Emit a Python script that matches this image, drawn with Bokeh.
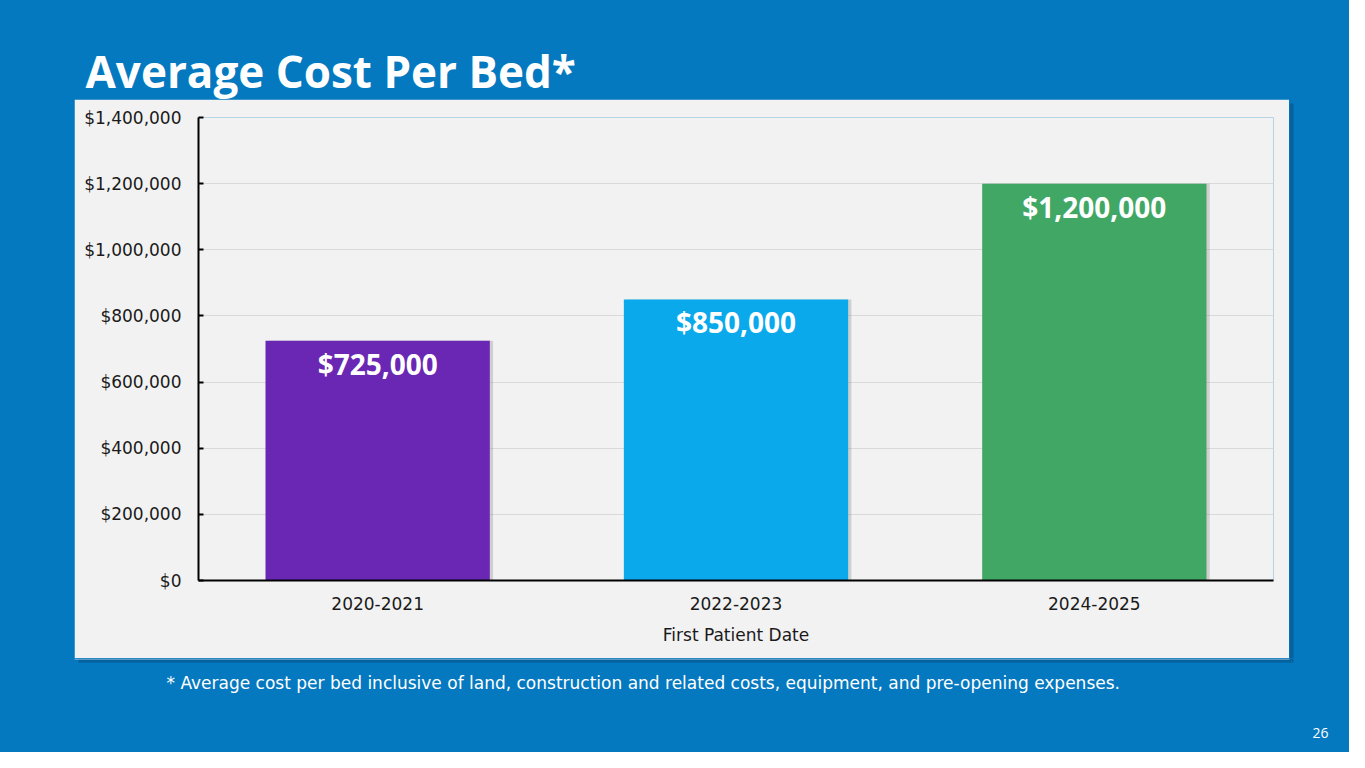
from bokeh.plotting import figure
from bokeh.layouts import column, row
from bokeh.models import (ColumnDataSource, FactorRange, Range1d, FixedTicker,
                          NumeralTickFormatter, BoxAnnotation, Label)
from bokeh.transform import dodge
from bokeh.core.properties import value
from bokeh.embed import file_html
from bokeh.resources import INLINE

# ---- data ----
categories = ["2020-2021", "2022-2023", "2024-2025"]
cost_per_bed = [725000, 850000, 1200000]
bar_colors = ["#6a27b4", "#0aa9ec", "#41a765"]
bar_labels = ["$725,000", "$850,000", "$1,200,000"]
y_ticks = [0, 200000, 400000, 600000, 800000, 1000000, 1200000, 1400000]
title_text = "Average Cost Per Bed*"
x_axis_title = "First Patient Date"
footnote = ("* Average cost per bed inclusive of land, construction and related costs, "
            "equipment, and pre-opening expenses.")
page_number = "26"

BLUE = "#0479c0"
PANEL = "#f2f2f2"
SHADOW = "#0a4f7e"
AXIS_FONT = "DejaVu Sans"
HEAD_FONT = "Open Sans"

TOTAL_W, TOTAL_H = 1349, 752
LEFT_W, CHART_W = 74, 1215
RIGHT_W = TOTAL_W - LEFT_W - CHART_W
TOP_H, CHART_H = 99, 559
BOTTOM_H = TOTAL_H - TOP_H - CHART_H


def no_align(f):
    try:
        f.frame_align = False
    except Exception:
        pass
    return f


def blank(w, h):
    f = figure(width=w, height=h, output_backend="svg", toolbar_location=None,
               x_axis_type=None, y_axis_type=None, min_border=0,
               x_range=Range1d(0, 1), y_range=Range1d(0, 1))
    f.background_fill_color = BLUE
    f.border_fill_color = BLUE
    f.outline_line_color = None
    return no_align(f)


def sbox(**kw):
    return BoxAnnotation(left_units="screen", right_units="screen",
                         top_units="screen", bottom_units="screen",
                         line_color=None, **kw)


# ---- title strip ----
top = blank(TOTAL_W, TOP_H)
top.add_layout(Label(x=85, y=29, x_units="screen", y_units="screen",
                     text=title_text, text_font=HEAD_FONT, text_font_style="bold",
                     text_font_size="44px", text_color="white",
                     text_baseline="alphabetic"))

# ---- side strips ----
left = blank(LEFT_W, CHART_H)
right = blank(RIGHT_W, CHART_H)
right.add_layout(sbox(left=0, right=4, top=CHART_H - 4, bottom=0,
                      fill_color=SHADOW, fill_alpha=0.55))

# ---- chart panel ----
src = ColumnDataSource(dict(cat=categories, val=cost_per_bed,
                            color=bar_colors, label=bar_labels))

p = figure(width=CHART_W, height=CHART_H, output_backend="svg", toolbar_location=None,
           x_range=FactorRange(factors=categories), y_range=Range1d(0, 1400000),
           min_border_left=124, min_border_right=16, min_border_top=18,
           min_border_bottom=78)
no_align(p)
p.border_fill_color = PANEL
p.background_fill_color = PANEL
p.outline_line_color = None

p.vbar(x=dodge("cat", 0.009, range=p.x_range), top="val", width=0.626, bottom=0,
       source=src, fill_color="#7f7f7f", fill_alpha=0.3, line_color=None)
p.vbar(x="cat", top="val", width=0.626, bottom=0, source=src,
       fill_color="color", line_color=None)
p.text(x="cat", y="val", text="label", source=src, text_align="center",
       text_baseline="top", y_offset=4, text_color="white",
       text_font=value(HEAD_FONT), text_font_style="bold", text_font_size="28px")

p.yaxis.ticker = FixedTicker(ticks=y_ticks)
p.yaxis.formatter = NumeralTickFormatter(format="$0,0")
p.yaxis.major_tick_in = 5
p.yaxis.major_tick_out = 0
p.yaxis.minor_tick_line_color = None
p.yaxis.major_tick_line_width = 2
p.yaxis.major_label_standoff = 17
for ax in (p.xaxis, p.yaxis):
    ax.axis_line_color = "black"
    ax.axis_line_width = 2
    ax.major_label_text_font = AXIS_FONT
    ax.major_label_text_font_size = "17px"
    ax.major_label_text_color = "#1a1a1a"
p.yaxis.major_tick_line_color = "black"

p.xaxis.major_tick_in = 0
p.xaxis.major_tick_out = 0
p.xaxis.major_tick_line_color = None
p.xaxis.major_label_standoff = 16
p.xaxis.axis_label = x_axis_title
p.xaxis.axis_label_text_font = AXIS_FONT
p.xaxis.axis_label_text_font_size = "17px"
p.xaxis.axis_label_text_font_style = "normal"
p.xaxis.axis_label_text_color = "#1a1a1a"
p.xaxis.axis_label_standoff = 12

p.xgrid.grid_line_color = None
p.ygrid.grid_line_color = "#d9d9d9"
p.ygrid.grid_line_width = 1

# ---- footnote strip ----
bottom = blank(TOTAL_W, BOTTOM_H)
bottom.add_layout(sbox(left=LEFT_W + 4, right=LEFT_W + CHART_W + 4,
                       top=BOTTOM_H, bottom=BOTTOM_H - 4,
                       fill_color=SHADOW, fill_alpha=0.55))
bottom.add_layout(sbox(left=LEFT_W, right=LEFT_W + CHART_W,
                       top=BOTTOM_H, bottom=BOTTOM_H - 1,
                       fill_color="#a9d1ee", fill_alpha=1.0))
bottom.add_layout(Label(x=166, y=70, x_units="screen", y_units="screen",
                        text=footnote, text_font=AXIS_FONT, text_font_size="17px",
                        text_color="white", text_baseline="alphabetic"))
bottom.add_layout(Label(x=1328, y=20, x_units="screen", y_units="screen",
                        text=page_number, text_font=HEAD_FONT, text_font_size="14px",
                        text_color="white", text_align="right",
                        text_baseline="alphabetic"))

mid = row(left, p, right, styles={"background-color": BLUE})
layout = column(top, mid, bottom, styles={"background-color": BLUE})
open("out.html", "w").write(file_html(layout, INLINE))
